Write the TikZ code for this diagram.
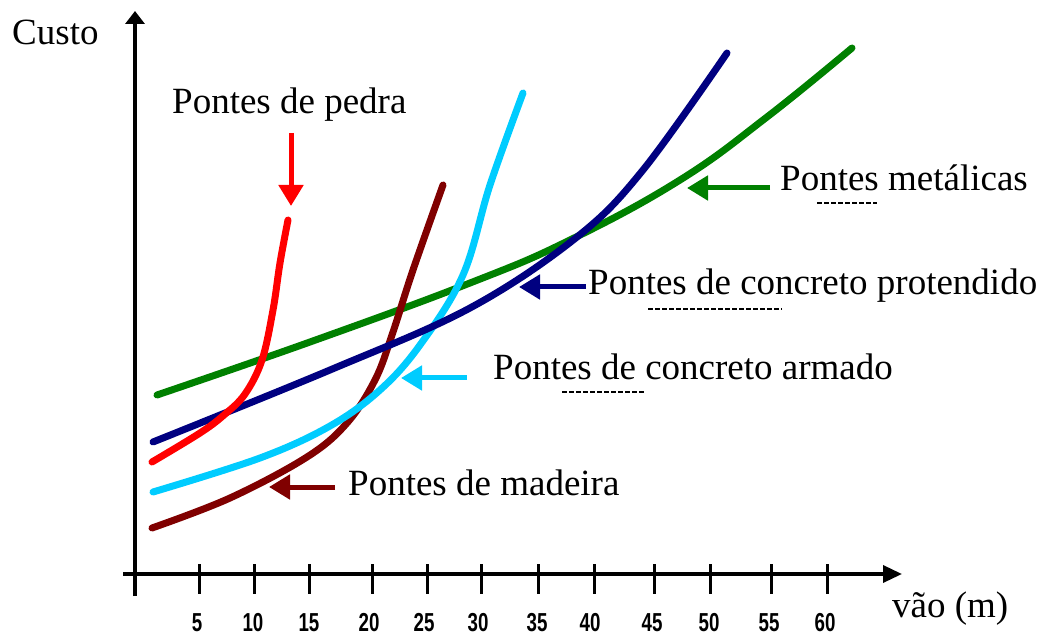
\documentclass[tikz,border=0pt]{standalone}
\usepackage{fontspec}
\setmainfont{Liberation Serif}
\newfontfamily\tickfont{Liberation Sans}
\usetikzlibrary{arrows.meta}
\definecolor{cred}{HTML}{FF0000}
\definecolor{cgreen}{HTML}{008000}
\definecolor{cnavy}{HTML}{000080}
\definecolor{ccyan}{HTML}{00CCFF}
\definecolor{cmaroon}{HTML}{800000}
\tikzset{
  lbl/.style={anchor=base west, inner sep=0pt, font=\fontsize{37}{40}\selectfont},
  ticklbl/.style={anchor=center, inner sep=0pt},
  axis/.style={line width=3.5pt},
  curve/.style={line width=7pt, line cap=round, line join=round},
  pointer/.style={line width=5pt, -{Triangle[length=21pt,width=24pt]}},
  artifact/.style={line width=2pt, dash pattern=on 5pt off 2pt}
}
\newcommand{\tk}[1]{\scalebox{0.72}[1]{\tickfont\bfseries\fontsize{26}{26}\selectfont #1}}
\begin{document}
\begin{tikzpicture}[x=1pt,y=-1pt]
\useasboundingbox (0,0) rectangle (1045,636);
% axes
\coordinate (yb) at (135,596);
\coordinate (yt) at (135,11);
\coordinate (xl) at (123,574);
\coordinate (xr) at (902,574);
\draw[axis,-{Triangle[length=13pt,width=19pt]}] (yb) -- (yt);
\draw[axis,-{Triangle[length=19pt,width=17pt]}] (xl) -- (xr);
% ticks
\foreach \x in {199,254,309,372,427,481,538,594,654,710,771,827}{
  \draw[line width=3pt] (\x,564) -- (\x,594);
}
\foreach \x/\l in {197/5,253/10,309/15,369/20,424/25,478/30,537/35,590/40,652/45,709/50,769/55,825/60}{
  \node[ticklbl] (t\l) at (\x,623) {\tk{\l}};
}
\node[lbl] (custo) at (12,45) {Custo};
\node[lbl] (vao) at (892,617) {vão (m)};
% curves
\draw[curve,cgreen] plot[smooth,tension=0.7] coordinates {(157,395) (310,342) (470,283) (570,240) (680,180) (767,117) (852,48)};
\draw[curve,cmaroon] plot[smooth,tension=0.6] coordinates {(152,528) (230,498) (307,457) (347,423) (375,380) (392,335) (413,270) (443,185)};
\draw[curve,ccyan] plot[smooth,tension=0.6] coordinates {(153,492) (260,458) (330,426) (380,390) (420,345) (463,275) (490,185) (523,93)};
\draw[curve,cnavy] plot[smooth,tension=0.6] coordinates {(153,442) (330,370) (470,308) (577,237) (643,170) (727,53)};
\draw[curve,cred] plot[smooth,tension=0.6] coordinates {(152,462) (200,433) (224,415) (245,394) (262,360) (273,310) (280,263) (288,220)};
% labels
\node[lbl] (pedra) at (172,114) {Pontes de pedra};
\node[lbl] (metal) at (780,191) {Pontes metálicas};
\node[lbl] (prot) at (588,295) {Pontes de concreto protendido};
\node[lbl] (arm) at (493,380) {Pontes de concreto armado};
\node[lbl] (mad) at (348,495) {Pontes de madeira};
% pointers
\coordinate (pedraS) at (291,133);
\coordinate (pedraE) at (291,206);
\draw[pointer,cred] (pedraS) -- (pedraE);
\coordinate (metalS) at (770,188);
\coordinate (metalE) at (687,188);
\draw[pointer,cgreen] (metalS) -- (metalE);
\coordinate (protS) at (586,287);
\coordinate (protE) at (519,287);
\draw[pointer,cnavy] (protS) -- (protE);
\coordinate (armS) at (467,378);
\coordinate (armE) at (401,378);
\draw[pointer,ccyan] (armS) -- (armE);
\coordinate (madS) at (335,487);
\coordinate (madE) at (269,487);
\draw[pointer,cmaroon] (madS) -- (madE);
% small dashed marks
\coordinate (m1a) at (817,203); \coordinate (m1b) at (877,203);
\draw[artifact] (m1a) -- (m1b);
\coordinate (m2a) at (648,309); \coordinate (m2b) at (782,309);
\draw[artifact] (m2a) -- (m2b);
\coordinate (m3a) at (562,392); \coordinate (m3b) at (645,392);
\draw[artifact] (m3a) -- (m3b);
\end{tikzpicture}
\end{document}
